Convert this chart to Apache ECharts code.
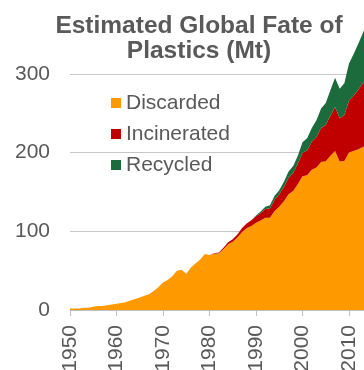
<!DOCTYPE html>
<html>
<head>
<meta charset="utf-8">
<script src="https://cdn.jsdelivr.net/npm/echarts@6/dist/echarts.min.js"></script>
<style>html,body{margin:0;padding:0;background:#fff}#c{width:364px;height:370px}</style>
</head>
<body>
<div id="c"></div>
<script>
const years = [1950,1951,1952,1953,1954,1955,1956,1957,1958,1959,1960,1961,1962,1963,1964,1965,1966,1967,1968,1969,1970,1971,1972,1973,1974,1975,1976,1977,1978,1979,1980,1981,1982,1983,1984,1985,1986,1987,1988,1989,1990,1991,1992,1993,1994,1995,1996,1997,1998,1999,2000,2001,2002,2003,2004,2005,2006,2007,2008,2009,2010,2011,2012,2013,2014,2015];
const discarded = [2,2,2,3,3,4,5,5,6,7,8,9,10,12,14,16,18,20,24,29,35,38,43,50,51,46,54,59,64,71,70,71.5,72,77.3,83.6,86.8,92,98.9,103.8,106.8,110.8,113.6,117.2,117.2,125.7,131,138,147,151,160,170,171,178,181,188,189,196,202,188.5,189.2,200,202,204,207,211,214];
const incinerated = [0,0,0,0,0,0,0,0,0,0,0,0,0,0,0,0,0,0,0,0,0,0,0,0,0,0,0,0,0,0,0,0.5,1,1.7,2.4,3.2,4,5.1,6.2,7.2,8.4,9.6,11,12.1,14.2,16,18.3,20.9,23.1,26.1,29.8,32,35.6,38.8,43,46,50.8,55.8,55.1,58.5,65.7,70.5,75.7,81.3,87.3,93.3];
const recycled = [0,0,0,0,0,0,0,0,0,0,0,0,0,0,0,0,0,0,0,0,0,0,0,0,0,0,0,0,0,0,0,0,0,0,0,0,0,0,0,0,0.8,1.8,2.8,3.7,5.1,5,6.7,8.1,8.9,9.9,13.2,15,17.4,21.2,25,28,32.2,37.2,37.4,40.3,47.3,52.5,58.3,63.7,68.7,73.7];
const seriesNames = ['Discarded','Incinerated','Recycled'];
const yTicks = [0,100,200,300];

const colors = ['#FF9900','#C00000','#1B6B3C'];
const font = '"Liberation Sans", Arial, sans-serif';
const values = [discarded, incinerated, recycled];
const showYear = (idx, val) => Number(val) % 10 === 0 && Number(val) < 2015;

const chart = echarts.init(document.getElementById('c'), null, {renderer:'canvas'});
chart.setOption({
  animation:false,
  title:{
    text:'Estimated Global Fate of\nPlastics (Mt)',
    left:199, top:14, textAlign:'center', padding:0,
    textStyle:{fontFamily:font,fontSize:24.5,fontWeight:'bold',color:'#595959',lineHeight:25}
  },
  legend:{
    orient:'vertical', left:111, top:92.5, padding:0,
    itemWidth:10, itemHeight:10, itemGap:10,
    icon:'rect',
    data:seriesNames,
    textStyle:{fontFamily:font,fontSize:21,color:'#595959',lineHeight:21}
  },
  grid:{left:70,right:-8.25,top:-5,bottom:60,containLabel:false,outerBoundsMode:'none'},
  xAxis:{
    type:'category', data:years.map(String), boundaryGap:false,
    axisLine:{lineStyle:{color:'#bfbfbf',width:1}},
    axisTick:{show:true,length:6,interval:showYear,lineStyle:{color:'#bfbfbf'}},
    axisLabel:{rotate:90,margin:15,interval:showYear,fontFamily:font,fontSize:21,color:'#595959'},
    splitLine:{show:false}
  },
  yAxis:{
    type:'value', min:0, max:400, interval:100,
    axisLine:{show:false}, axisTick:{show:false},
    axisLabel:{margin:20,fontFamily:font,fontSize:21,color:'#595959',
      formatter:v=>yTicks.indexOf(v)>=0?String(v):''},
    splitLine:{lineStyle:{color:'#c6c6c6',width:1}}
  },
  series: seriesNames.map((n,i)=>({
    name:n, type:'line', stack:'total',
    symbol:'none', showSymbol:false,
    lineStyle:{width:0},
    itemStyle:{color:colors[i]},
    areaStyle:{color:colors[i],opacity:1},
    data: values[i]
  }))
});
</script>
</body>
</html>
